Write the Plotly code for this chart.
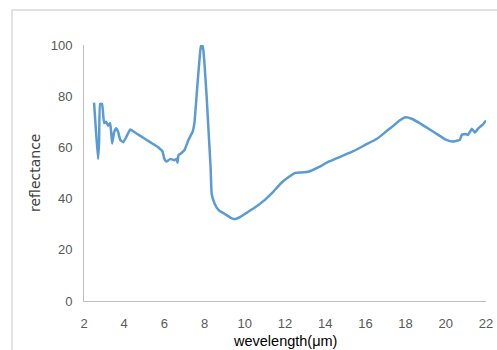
import plotly.graph_objects as go

wavelength = [2.5, 2.6, 2.7, 2.75, 2.8, 2.9, 3.0, 3.1, 3.2, 3.3, 3.35, 3.4, 3.5, 3.6, 3.7, 3.8, 3.95,
              4.1, 4.3, 4.5, 4.8, 5.1, 5.4, 5.7, 5.9, 6.0, 6.1, 6.3, 6.5, 6.6, 6.65, 6.7, 6.8, 7.0,
              7.2, 7.4, 7.5, 7.6, 7.7, 7.78, 7.83, 7.88, 7.93, 8.0, 8.1, 8.2, 8.3, 8.35, 8.5, 8.7, 9.0,
              9.3, 9.5, 9.8, 10.1, 10.5, 11.0, 11.4, 11.8, 12.2, 12.5, 12.8, 13.2, 13.6, 14.2, 14.8,
              15.4, 16.0, 16.6, 17.0, 17.4, 17.7, 18.0, 18.3, 18.7, 19.2, 19.6, 20.0, 20.3, 20.5,
              20.7, 20.8, 21.0, 21.1, 21.3, 21.45, 21.6, 21.7, 21.85, 22.0]
reflectance = [77.5, 66, 55.5, 62, 77, 77, 69.5, 70, 68.5, 69.5, 66, 61.5, 66, 67.5, 66, 63, 62,
               64, 67, 66, 64.5, 63, 61.5, 60, 58.5, 55.5, 54.5, 55.5, 55, 55.5, 54, 57, 57.5, 59,
               63, 66, 70, 80, 90, 97.5, 99.8, 100, 98.5, 92, 80, 66, 52, 42, 38, 35.5, 34,
               32.5, 32, 33, 34.5, 36.5, 39.5, 42.5, 46, 48.5, 50, 50.2, 50.6, 52, 54.5, 56.5,
               58.5, 61, 63.5, 66, 68.5, 70.5, 71.8, 71.2, 69.5, 67, 65, 63, 62.3, 62.5,
               63, 65, 65.2, 64.8, 67.3, 65.8, 67.3, 68, 69, 70.5]

x_ticks = [2, 4, 6, 8, 10, 12, 14, 16, 18, 20, 22]
y_ticks = [0, 20, 40, 60, 80, 100]

fig = go.Figure()
fig.add_trace(go.Scatter(x=wavelength, y=reflectance, mode="lines",
                         line=dict(color="#5B9BD5", width=2.5, shape="spline", smoothing=0.3),
                         showlegend=False))

tick_font = dict(family="Liberation Sans", size=13, color="#595959")
fig.update_layout(
    width=497, height=350,
    margin=dict(l=84, r=11, t=45, b=49),
    paper_bgcolor="white", plot_bgcolor="white",
    xaxis=dict(range=[2, 22], tickvals=x_ticks, showgrid=False, zeroline=False,
               showline=True, linecolor="#bfbfbf", linewidth=1, ticks="",
               tickfont=tick_font, ticklabelstandoff=10, fixedrange=True, automargin=False),
    yaxis=dict(range=[0, 100], tickvals=y_ticks, showgrid=False, zeroline=False,
               showline=True, linecolor="#bfbfbf", linewidth=1, ticks="",
               tickfont=tick_font, ticklabelstandoff=8, fixedrange=True, automargin=False),
    shapes=[dict(type="rect", xref="paper", yref="paper",
                 x0=-0.1791, x1=1.3, y0=-0.6, y1=1.1367,
                 line=dict(color="#d9d9d9", width=1.5), fillcolor="rgba(0,0,0,0)",
                 layer="below")],
    annotations=[
        dict(text="wevelength(μm)", xref="paper", yref="paper", x=0.5, y=-0.156,
             xanchor="center", yanchor="middle", showarrow=False,
             font=dict(family="Liberation Sans", size=14.5, color="#000000")),
        dict(text="reflectance", xref="paper", yref="paper", x=-0.1219, y=0.5,
             xanchor="center", yanchor="middle", showarrow=False, textangle=-90,
             font=dict(family="DejaVu Sans", size=14, color="#404040")),
    ],
)

fig.write_html("out.html")
